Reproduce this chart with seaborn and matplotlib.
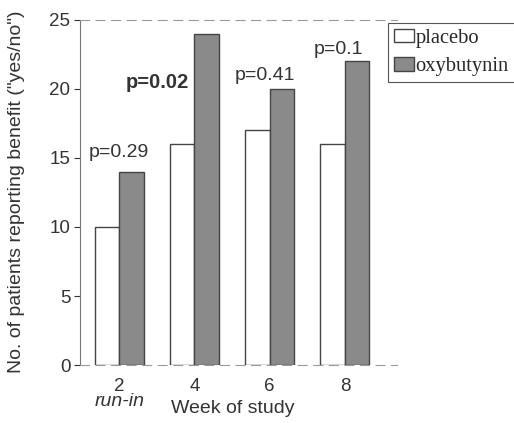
import matplotlib
matplotlib.use("Agg")
import matplotlib.pyplot as plt
import seaborn as sns
import pandas as pd

weeks = ["2", "4", "6", "8"]
placebo = [10, 16, 17, 16]
oxybutynin = [14, 24, 20, 22]
p_labels = ["p=0.29", "p=0.02", "p=0.41", "p=0.1"]
p_bold = [False, True, False, False]
p_y = [15.1, 20.1, 20.65, 22.5]
p_x = [0.0, 0.5, 1.94, 2.91]

sns.set_theme(style="white")
plt.rcParams['font.family'] = ['Liberation Sans', 'DejaVu Sans']

df = pd.DataFrame({
    "week": weeks * 2,
    "value": placebo + oxybutynin,
    "group": ["placebo"] * 4 + ["oxybutynin"] * 4,
})

fig = plt.figure(figsize=(5.14, 4.23), dpi=100)
ax = fig.add_axes([0.156, 0.137, 0.616, 0.816])

sns.barplot(data=df, x="week", y="value", hue="group",
            palette={"placebo": "white", "oxybutynin": "#8a8a8a"},
            width=0.65, gap=0, edgecolor="#444444", linewidth=1.0,
            ax=ax, legend=True)

ax.set_ylim(0, 25)
ax.set_xlim(-0.52, 3.69)
ax.set_yticks([0, 5, 10, 15, 20, 25])
ax.tick_params(axis="y", left=True, length=4, width=0.8, colors="#333333",
               labelsize=13.5, pad=3)
ax.tick_params(axis="x", bottom=False, labelsize=13.5, pad=3, colors="#333333")
for lab in ax.get_yticklabels() + ax.get_xticklabels():
    lab.set_color("#333333")

ax.spines["left"].set_color("#777777")
ax.spines["left"].set_linewidth(0.8)
ax.spines["right"].set_visible(False)
for s in ["top", "bottom"]:
    ax.spines[s].set_color("#999999")
    ax.spines[s].set_linewidth(0.8)
    ax.spines[s].set_linestyle((0, (8, 6)))

for x, y, t, b in zip(p_x, p_y, p_labels, p_bold):
    ax.text(x, y, t, ha="center", va="baseline",
            fontsize=14.5 if b else 14,
            fontweight="bold" if b else "normal", color="#333333")

ax.set_ylabel("")
ax.set_xlabel("")
fig.text(0.033, 0.546, 'No. of patients reporting benefit ("yes/no")',
         rotation=90, ha="center", va="center", fontsize=14, color="#333333")
fig.text(0.453, 0.035, "Week of study", ha="center", va="center",
         fontsize=14, color="#333333")
ax.text(0.0, -0.107, "run-in", transform=ax.get_xaxis_transform(),
        ha="center", va="center", fontsize=14, style="italic", color="#333333")

leg = ax.legend(loc="upper left", bbox_to_anchor=(0.755, 0.946),
                bbox_transform=fig.transFigure, frameon=True,
                fancybox=False, edgecolor="#555555", handlelength=0.95,
                handleheight=0.6, handletextpad=0.08, borderpad=0.3,
                labelspacing=0.45, borderaxespad=0.0,
                prop={"family": "Liberation Serif", "size": 14.8})
leg.get_frame().set_linewidth(0.8)
leg.get_frame().set_alpha(1.0)

fig.savefig("out.png", dpi=100)
